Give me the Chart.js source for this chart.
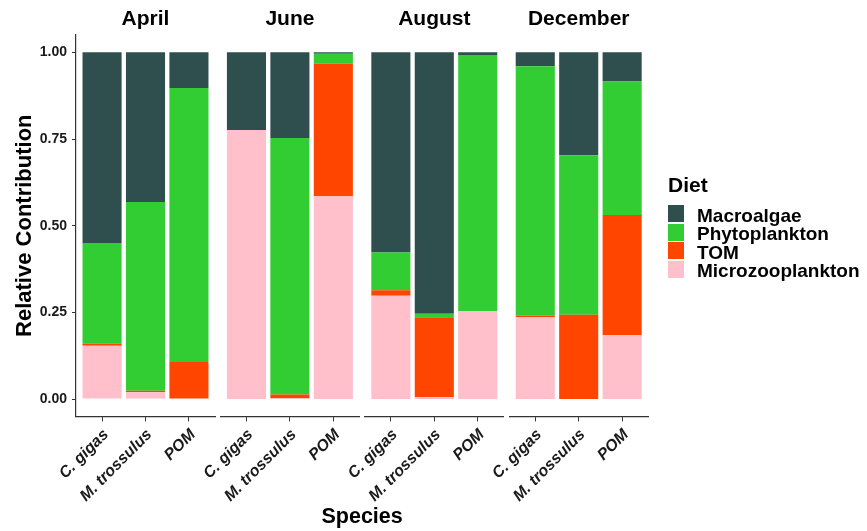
<!DOCTYPE html>
<html>
<head>
<meta charset="utf-8">
<title>Diet contribution by month and species</title>
<script src="https://cdn.jsdelivr.net/npm/chart.js@4.4.1/dist/chart.umd.min.js"></script>
<style>
  html, body { margin: 0; padding: 0; background: #ffffff; }
  #wrap { position: relative; width: 867px; height: 531px; overflow: hidden;
          font-family: 'Liberation Sans', Arial, sans-serif; color: #000; }
  #wrap canvas { position: absolute; left: 0; top: 0; }
  .txt { position: absolute; font-weight: bold; white-space: nowrap; line-height: 1; }
  .key { position: absolute; width: 16px; height: 17px; }
</style>
</head>
<body>
<div id="wrap"></div>
<script>
// ---- data ---------------------------------------------------------------
const months = ['April', 'June', 'August', 'December'];
const species = ['C. gigas', 'M. trossulus', 'POM'];
const diets = ['Macroalgae', 'Phytoplankton', 'TOM', 'Microzooplankton'];
const dietColors = ['#2F4F4F', '#32CD32', '#FF4500', '#FFC0CB'];
const yTicks = [0, 0.25, 0.5, 0.75, 1];

// relative contribution per month (rows) and species (columns)
const macroalgae = [
  [0.550, 0.432, 0.103],
  [0.224, 0.247, 0.004],
  [0.577, 0.754, 0.008],
  [0.040, 0.297, 0.084]
];
const phytoplankton = [
  [0.290, 0.544, 0.790],
  [0.000, 0.740, 0.029],
  [0.109, 0.010, 0.738],
  [0.719, 0.460, 0.385]
];
const tom = [
  [0.006, 0.004, 0.107],
  [0.000, 0.011, 0.382],
  [0.016, 0.231, 0.000],
  [0.004, 0.243, 0.346]
];
const microzooplankton = [
  [0.154, 0.020, 0.000],
  [0.776, 0.002, 0.585],
  [0.298, 0.005, 0.254],
  [0.237, 0.000, 0.185]
];
const dietValues = [macroalgae, phytoplankton, tom, microzooplankton];

// ---- layout -------------------------------------------------------------
const W = 867, H = 531;
const FONT = "'Liberation Sans', Arial, sans-serif";
const panelLeft = [76, 220.4, 364.8, 509.2];
const panelWidth = 139;
const plotBottom = 416.4;
const ink = '#1a1a1a';
const axisColor = '#333333';

const wrap = document.getElementById('wrap');

months.forEach((month, m) => {
  const canvas = document.createElement('canvas');
  canvas.width = W; canvas.height = H;
  wrap.appendChild(canvas);

  // stacked bottom-up: Microzooplankton, TOM, Phytoplankton, Macroalgae
  const datasets = diets.map((diet, k) => ({
    label: diet,
    data: species.map((s, i) => ({ x: i + 1, y: dietValues[k][m][i] })),
    backgroundColor: dietColors[k],
    borderWidth: 0,
    barPercentage: 0.9,
    categoryPercentage: 1
  })).reverse();

  const showY = m === 0;

  new Chart(canvas, {
    type: 'bar',
    data: { datasets },
    options: {
      responsive: false,
      animation: false,
      layout: {
        autoPadding: false,
        padding: {
          left: showY ? 0 : panelLeft[m],
          right: W - (panelLeft[m] + panelWidth),
          top: 0, bottom: 0
        }
      },
      plugins: {
        legend: { display: false },
        tooltip: { enabled: false },
        title: {
          display: true,
          text: month,
          fullSize: false,
          color: '#000',
          font: { family: FONT, size: 21, weight: 'bold' },
          padding: { top: 7, bottom: 2.8 }
        }
      },
      scales: {
        x: {
          type: 'linear',
          min: 0.4, max: 3.6,
          offset: false,
          stacked: true,
          afterBuildTicks: s => { s.ticks = species.map((_, i) => ({ value: i + 1 })); },
          afterFit: s => { s.height = H - plotBottom; },
          ticks: {
            autoSkip: false,
            minRotation: 45, maxRotation: 45,
            callback: (v, i) => species[i],
            color: ink,
            font: { family: FONT, size: 16, weight: 'bold', style: 'italic' },
            padding: 4,
            labelOffset: 4
          },
          grid: { display: true, offset: false, drawOnChartArea: false, drawTicks: true,
                  tickLength: 5, color: axisColor, lineWidth: 1 },
          border: { display: true, color: axisColor, width: 1.2 }
        },
        y: {
          display: showY,
          min: -0.05, max: 1.05,
          stacked: true,
          afterBuildTicks: s => { s.ticks = yTicks.map(v => ({ value: v })); },
          afterFit: s => { s.width = showY ? panelLeft[0] : 0; },
          ticks: {
            callback: v => v.toFixed(2),
            color: ink,
            font: { family: FONT, size: 14, weight: 'bold' },
            padding: 5
          },
          grid: { display: true, drawOnChartArea: false, drawTicks: true,
                  tickLength: 4, color: axisColor, lineWidth: 1 },
          border: { display: true, color: axisColor, width: 1.2 },
          title: {
            display: true,
            text: 'Relative Contribution',
            color: '#000',
            font: { family: FONT, size: 22, weight: 'bold' },
            padding: { top: 12, bottom: 0 }
          }
        }
      }
    }
  });
});

// ---- shared x-axis title and legend ---------------------------------------
function addText(text, left, top, size, extra) {
  const d = document.createElement('div');
  d.className = 'txt';
  d.textContent = text;
  d.style.left = left + 'px';
  d.style.top = top + 'px';
  d.style.fontSize = size + 'px';
  if (extra) Object.assign(d.style, extra);
  wrap.appendChild(d);
  return d;
}

const xCenter = (panelLeft[0] + panelLeft[3] + panelWidth) / 2;
addText('Species', xCenter - 100, 506, 21.5, { width: '200px', textAlign: 'center' });

addText('Diet', 668, 174, 21);
diets.forEach((diet, k) => {
  const top = 205 + k * 18.5;
  const key = document.createElement('div');
  key.className = 'key';
  key.style.left = '668px';
  key.style.top = top + 'px';
  key.style.background = dietColors[k];
  wrap.appendChild(key);
  addText(diet, 697, top + 0.6, 19);
});
</script>
</body>
</html>
